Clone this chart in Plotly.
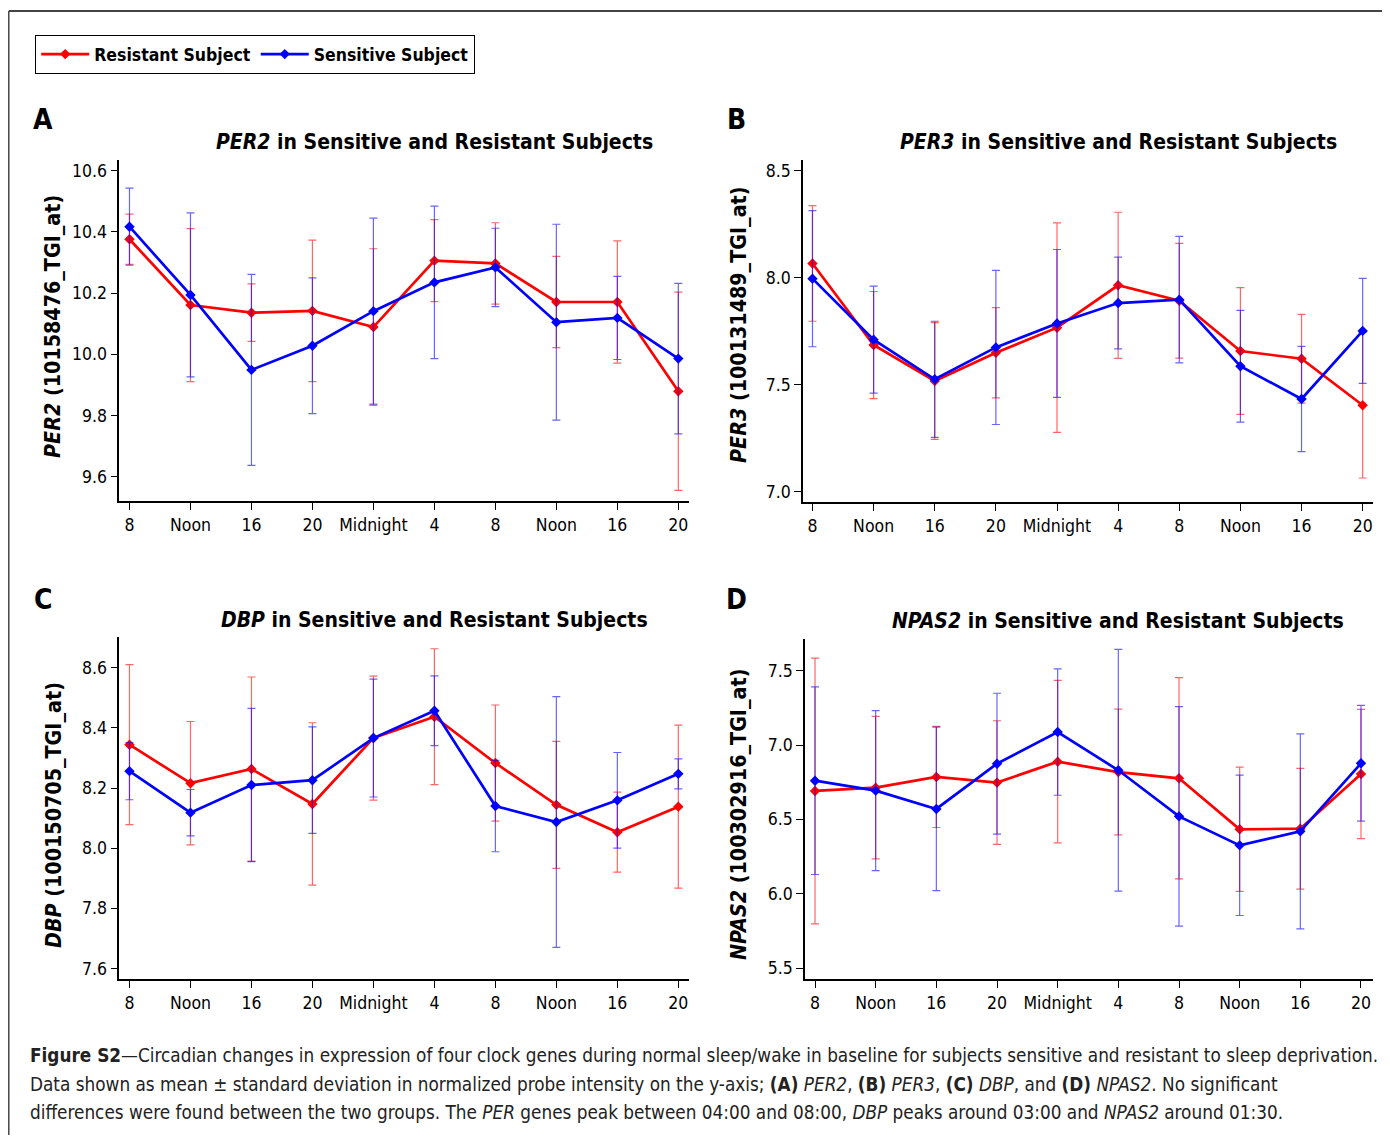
import plotly.graph_objects as go

# page has an 8px body margin, so the figure is drawn 16px smaller and offset by 8px
OFF = 8
W, H = 1390 - 2 * OFF, 1143 - 2 * OFF
FONT = "DejaVu Sans Condensed, Liberation Sans Narrow, Arial Narrow, sans-serif"

times = ["8", "Noon", "16", "20", "Midnight", "4", "8", "Noon", "16", "20"]

# Panel A: PER2
per2_res = [10.376, 10.161, 10.136, 10.142, 10.089, 10.306, 10.297, 10.171, 10.171, 9.879]
per2_res_sd = [0.082, 0.250, 0.094, 0.231, 0.256, 0.134, 0.133, 0.149, 0.200, 0.324]
per2_sen = [10.417, 10.194, 9.949, 10.028, 10.141, 10.235, 10.284, 10.105, 10.119, 9.986]
per2_sen_sd = [0.126, 0.268, 0.312, 0.222, 0.304, 0.249, 0.128, 0.320, 0.136, 0.246]

# Panel B: PER3
per3_res = [8.067, 7.686, 7.518, 7.650, 7.767, 7.965, 7.893, 7.658, 7.622, 7.405]
per3_res_sd = [0.270, 0.250, 0.273, 0.211, 0.489, 0.341, 0.268, 0.296, 0.207, 0.340]
per3_sen = [7.996, 7.711, 7.526, 7.675, 7.787, 7.882, 7.898, 7.587, 7.434, 7.752]
per3_sen_sd = [0.318, 0.250, 0.271, 0.360, 0.345, 0.214, 0.295, 0.261, 0.246, 0.245]

# Panel C: DBP
dbp_res = [8.344, 8.216, 8.263, 8.147, 8.366, 8.437, 8.283, 8.144, 8.053, 8.138]
dbp_res_sd = [0.266, 0.205, 0.306, 0.270, 0.206, 0.226, 0.193, 0.211, 0.133, 0.271]
dbp_sen = [8.256, 8.118, 8.210, 8.226, 8.366, 8.457, 8.140, 8.087, 8.159, 8.247]
dbp_sen_sd = [0.095, 0.077, 0.255, 0.177, 0.196, 0.116, 0.152, 0.417, 0.159, 0.050]

# Panel D: NPAS2
npas2_res = [6.691, 6.713, 6.785, 6.747, 6.888, 6.818, 6.776, 6.433, 6.437, 6.805]
npas2_res_sd = [0.894, 0.479, 0.340, 0.416, 0.547, 0.423, 0.677, 0.418, 0.406, 0.435]
npas2_sen = [6.760, 6.693, 6.570, 6.874, 7.087, 6.830, 6.520, 6.325, 6.419, 6.877]
npas2_sen_sd = [0.631, 0.538, 0.550, 0.474, 0.425, 0.813, 0.738, 0.472, 0.656, 0.389]

RED = "#ff0000"
BLUE = "#0000ff"
RED_ERR = "rgba(255,0,0,0.6)"
BLUE_ERR = "rgba(0,0,255,0.6)"

TICK_SIZE = 17.5
TITLE_SIZE = 21
YTITLE_SIZE = 21.3


def fx(px):
    return (px - OFF) / W


def fy(py):
    return 1 - (py - OFF) / H


panels = [
    dict(res=per2_res, rsd=per2_res_sd, sen=per2_sen, ssd=per2_sen_sd,
         xd=(119.3, 689), yd=(160, 501), xr=(-0.167, 9.175), yr=(9.5206, 10.635),
         tv=[9.6, 9.8, 10.0, 10.2, 10.4, 10.6], gene="PER2", probe="10158476_TGI_at",
         tpos=(434, 142), letter="A", lpos=(43, 119), ypos=(53, 327)),
    dict(res=per3_res, rsd=per3_res_sd, sen=per3_sen, ssd=per3_sen_sd,
         xd=(803, 1372.7), yd=(160, 502), xr=(-0.155, 9.164), yr=(6.953, 8.55),
         tv=[7.0, 7.5, 8.0, 8.5], gene="PER3", probe="100131489_TGI_at",
         tpos=(1118, 142), letter="B", lpos=(736, 119), ypos=(738, 325)),
    dict(res=dbp_res, rsd=dbp_res_sd, sen=dbp_sen, ssd=dbp_sen_sd,
         xd=(119.3, 689), yd=(637, 979), xr=(-0.167, 9.175), yr=(7.565, 8.702),
         tv=[7.6, 7.8, 8.0, 8.2, 8.4, 8.6], gene="DBP", probe="100150705_TGI_at",
         tpos=(434, 620), letter="C", lpos=(43, 599), ypos=(53, 815)),
    dict(res=npas2_res, rsd=npas2_res_sd, sen=npas2_sen, ssd=npas2_sen_sd,
         xd=(805, 1372.7), yd=(639, 979), xr=(-0.165, 9.193), yr=(5.426, 7.713),
         tv=[5.5, 6.0, 6.5, 7.0, 7.5], gene="NPAS2", probe="100302916_TGI_at",
         tpos=(1118, 621), letter="D", lpos=(736, 599), ypos=(738, 815)),
]

fig = go.Figure()
annotations = []
layout_axes = {}
xpos = list(range(len(times)))

for i, p in enumerate(panels):
    n = "" if i == 0 else str(i + 1)
    xa, ya = "x" + n, "y" + n
    for vals, sd, color, ecolor, name in [
        (p["res"], p["rsd"], RED, RED_ERR, "Resistant Subject"),
        (p["sen"], p["ssd"], BLUE, BLUE_ERR, "Sensitive Subject"),
    ]:
        fig.add_trace(go.Scatter(
            x=xpos, y=vals, xaxis=xa, yaxis=ya, mode="lines+markers",
            name="<b>%s</b>" % name, showlegend=(i == 0),
            line=dict(color=color, width=2.7),
            marker=dict(symbol="diamond", size=8, color=color),
            error_y=dict(type="data", array=sd, visible=True, color=ecolor,
                         thickness=1.2, width=4),
        ))
    layout_axes["xaxis" + n] = dict(
        domain=[fx(p["xd"][0]), fx(p["xd"][1])], anchor=ya, range=list(p["xr"]),
        tickmode="array", tickvals=xpos, ticktext=times,
        showline=True, linecolor="black", linewidth=1.5, ticks="outside",
        ticklen=7, tickcolor="black", tickwidth=1.2, showgrid=False, zeroline=False,
        tickfont=dict(family=FONT, size=TICK_SIZE, color="black"),
    )
    layout_axes["yaxis" + n] = dict(
        domain=[fy(p["yd"][1]), fy(p["yd"][0])], anchor=xa, range=list(p["yr"]),
        tickmode="array", tickvals=p["tv"], ticktext=["%.1f" % v for v in p["tv"]],
        showline=True, linecolor="black", linewidth=1.5, ticks="outside",
        ticklen=7, tickcolor="black", tickwidth=1.2, showgrid=False, zeroline=False,
        tickfont=dict(family=FONT, size=TICK_SIZE, color="black"),
    )
    annotations.append(dict(
        x=fx(p["tpos"][0]), y=fy(p["tpos"][1]), xref="paper", yref="paper",
        text="<b><i>%s</i> in Sensitive and Resistant Subjects</b>" % p["gene"],
        showarrow=False, xanchor="center", yanchor="middle",
        font=dict(family=FONT, size=TITLE_SIZE, color="black")))
    annotations.append(dict(
        x=fx(p["lpos"][0]), y=fy(p["lpos"][1]), xref="paper", yref="paper",
        text="<b>%s</b>" % p["letter"], showarrow=False, xanchor="center", yanchor="middle",
        font=dict(family=FONT, size=28, color="black")))
    annotations.append(dict(
        x=fx(p["ypos"][0]), y=fy(p["ypos"][1]), xref="paper", yref="paper",
        text="<b><i>%s</i> (%s)</b>" % (p["gene"], p["probe"]), textangle=-90,
        showarrow=False, xanchor="center", yanchor="middle",
        font=dict(family=FONT, size=YTITLE_SIZE, color="black")))

caption_lines = [
    "<b>Figure S2</b>\u2014Circadian changes in expression of four clock genes during normal sleep/wake in baseline for subjects sensitive and resistant to sleep deprivation.",
    "Data shown as mean \u00b1 standard deviation in normalized probe intensity on the y-axis; <b>(A)</b> <i>PER2</i>, <b>(B)</b> <i>PER3</i>, <b>(C)</b> <i>DBP</i>, and <b>(D)</b> <i>NPAS2</i>. No significant",
    "differences were found between the two groups. The <i>PER</i> genes peak between 04:00 and 08:00, <i>DBP</i> peaks around 03:00 and <i>NPAS2</i> around 01:30.",
]
caption_y = [1055, 1084, 1112]
for line, cy in zip(caption_lines, caption_y):
    annotations.append(dict(
        x=fx(28), y=fy(cy), xref="paper", yref="paper", text=line,
        showarrow=False, xanchor="left", yanchor="middle",
        font=dict(family=FONT, size=18.8, color="#222222")))

shapes = [
    dict(type="line", xref="paper", yref="paper", x0=fx(8.8), x1=fx(8.8), y0=fy(11), y1=0,
         line=dict(color="#444444", width=1.5)),
    dict(type="line", xref="paper", yref="paper", x0=fx(8.8), x1=1, y0=fy(11), y1=fy(11),
         line=dict(color="#444444", width=2)),
]

fig.update_layout(
    width=W, height=H, margin=dict(l=0, r=0, t=0, b=0),
    paper_bgcolor="white", plot_bgcolor="white",
    font=dict(family=FONT, color="black"),
    showlegend=True,
    legend=dict(
        x=fx(35), y=fy(35), xanchor="left", yanchor="top", orientation="h",
        bordercolor="black", borderwidth=1.2, bgcolor="white",
        font=dict(family=FONT, size=17.5, color="black"),
        itemwidth=48, tracegroupgap=0,
    ),
    annotations=annotations,
    shapes=shapes,
    **layout_axes,
)
fig.write_html("out.html")
